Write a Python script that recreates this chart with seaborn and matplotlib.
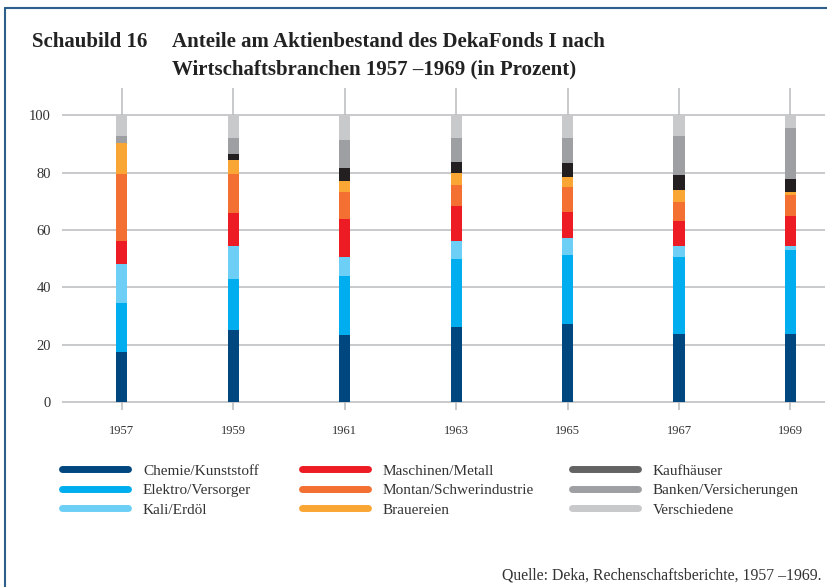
import matplotlib
matplotlib.use('Agg')
import matplotlib.pyplot as plt
from matplotlib.lines import Line2D
import seaborn as sns
import pandas as pd

years = ['1957', '1959', '1961', '1963', '1965', '1967', '1969']
branches = ['Chemie/Kunststoff', 'Elektro/Versorger', 'Kali/Erdöl',
            'Maschinen/Metall', 'Montan/Schwerindustrie', 'Brauereien',
            'Kaufhäuser', 'Banken/Versicherungen', 'Verschiedene']

chemie = [17.5, 25.0, 23.5, 26.2, 27.3, 23.8, 23.8]
elektro = [17.1, 18.0, 20.5, 23.7, 24.0, 26.8, 29.3]
kali = [13.6, 11.5, 6.6, 6.3, 6.0, 3.9, 1.4]
maschinen = [8.0, 11.5, 13.3, 12.2, 9.0, 8.7, 10.4]
montan = [23.4, 13.6, 9.4, 7.3, 8.7, 6.6, 7.3]
brauereien = [10.6, 4.8, 3.8, 4.2, 3.5, 4.2, 1.1]
kaufhaeuser = [0.0, 2.1, 4.5, 3.8, 4.9, 5.2, 4.5]
banken = [2.6, 5.6, 9.8, 8.4, 8.7, 13.6, 17.8]
verschiedene = [7.2, 7.9, 8.6, 7.9, 7.9, 7.2, 4.4]

series = [chemie, elektro, kali, maschinen, montan, brauereien,
          kaufhaeuser, banken, verschiedene]
colors = ['#00467f', '#00adee', '#6dcff6', '#ed1c24', '#f37032', '#faa634',
          '#231f20', '#9d9fa2', '#c8c9cb']
legend_colors = ['#00467f', '#00adee', '#6dcff6', '#ed1c24', '#f37032', '#faa634',
                 '#636363', '#9d9fa2', '#c8c9cb']

df = pd.DataFrame(dict(zip(branches, series)), index=years)
cum = df.cumsum(axis=1)

sns.set_style('whitegrid')
plt.rcParams['font.family'] = ['Liberation Serif', 'DejaVu Serif']

fig = plt.figure(figsize=(8.27, 5.87), dpi=100)
ax = fig.add_axes([0.075, 0.3015, 0.9226, 0.5485])

# cumulative bars drawn top-down so the lower segments sit on top
for b, c in reversed(list(zip(branches, colors))):
    sns.barplot(x=years, y=cum[b].values, color=c, width=0.1,
                saturation=1, linewidth=0, edgecolor='none', ax=ax, zorder=3)

ax.set_xlim(-0.536, 6.31)
ax.set_ylim(-2.8, 109.5)
ax.set_yticks([0, 20, 40, 60, 80, 100])
ax.set_xlabel('')
ax.set_ylabel('')
ax.grid(True, axis='both', color='#b9babd', linewidth=1.1)
ax.set_axisbelow(True)
for s in ax.spines.values():
    s.set_visible(False)
ax.tick_params(axis='y', length=0, pad=8, labelsize=10.5, labelcolor='#333333')
ax.tick_params(axis='x', length=0, pad=11, labelsize=9, labelcolor='#333333')

# title
tkw = dict(fontsize=15, fontweight='bold', va='center', ha='left', color='#222222')
fig.text(32 / 827, 1 - 42 / 587, 'Schaubild 16', **tkw)
fig.text(172 / 827, 1 - 42 / 587, 'Anteile am Aktienbestand des DekaFonds I nach', **tkw)
fig.text(172 / 827, 1 - 69 / 587, 'Wirtschaftsbranchen 1957 –1969 (in Prozent)', **tkw)

# legend: three columns of three entries
col_x = [62 / 827, 302 / 827, 572 / 827]
for k in range(3):
    handles = [Line2D([], [], color=legend_colors[i], linewidth=5,
                      solid_capstyle='round') for i in range(3 * k, 3 * k + 3)]
    leg = fig.legend(handles, branches[3 * k:3 * k + 3], loc='upper left',
                     bbox_to_anchor=(col_x[k], 1 - 464 / 587), frameon=False,
                     handlelength=4.3, handletextpad=1.0, labelspacing=0.38,
                     fontsize=11, borderaxespad=0, borderpad=0)
    for t in leg.get_texts():
        t.set_color('#333333')

fig.text(822 / 827, 1 - 575 / 587, 'Quelle: Deka, Rechenschaftsberichte, 1957 –1969.',
         fontsize=11.3, ha='right', va='center', color='#333333')

# frame lines (top and left)
fig.add_artist(Line2D([5 / 827, 5 / 827], [0, 1 - 8 / 587], color='#2e5f8a',
                      linewidth=1.5, transform=fig.transFigure))
fig.add_artist(Line2D([5 / 827, 1], [1 - 8 / 587, 1 - 8 / 587], color='#2e5f8a',
                      linewidth=1.5, transform=fig.transFigure))

fig.savefig('out.png', dpi=100)
